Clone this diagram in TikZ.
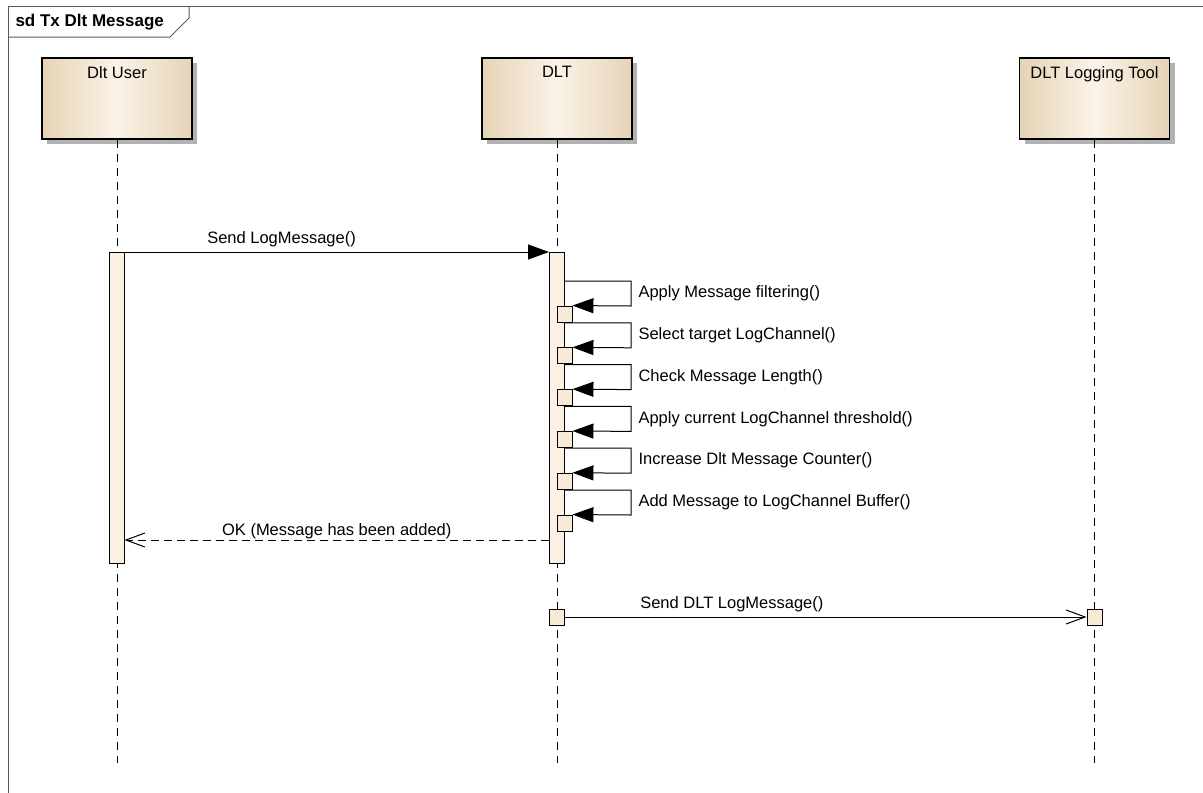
\documentclass[tikz,border=0pt]{standalone}
\usepackage{fontspec}
\setmainfont{Liberation Sans}
\usetikzlibrary{arrows.meta,positioning,calc,shadows}

\definecolor{headedge}{HTML}{E5D3B6}
\definecolor{headmid}{HTML}{FBF3E8}
\definecolor{barfill}{HTML}{FCF0E2}
\definecolor{boxfill}{HTML}{F7EAD6}
\definecolor{framegray}{HTML}{5A5A5A}

\newcommand{\msgfont}{\fontsize{16.5}{19}\selectfont}

\tikzset{
  head/.style={draw, line width=1.2pt, minimum width=150pt, minimum height=81pt,
    left color=headedge, right color=headedge, middle color=headmid,
    drop shadow={shadow xshift=5pt, shadow yshift=-5pt, fill=black!30, opacity=1}},
  lifeline/.style={line width=0.8pt, dash pattern=on 8pt off 6pt},
  activation/.style={draw, line width=0.9pt, fill=barfill, minimum width=15pt,
    minimum height=311pt, inner sep=0pt},
  execbox/.style={draw, line width=0.9pt, fill=boxfill, minimum width=15pt,
    minimum height=16pt, inner sep=0pt},
  call/.style={line width=1pt, -{Triangle[length=21pt,width=15pt]}},
  reply/.style={line width=1pt, dash pattern=on 8pt off 5pt,
    -{Straight Barb[length=19pt,width=14pt]}},
  async/.style={line width=1pt, -{Straight Barb[length=19pt,width=14pt]}},
  msg/.style={font=\msgfont, inner sep=1pt}
}

\begin{document}
\begin{tikzpicture}[x=1pt,y=-1pt,font=\msgfont]
\clip (0,0) rectangle (1203,793);
\fill[white] (0,0) rectangle (1203,793);

% frame
\draw[framegray, line width=1pt] (8,800) -- (8,6) -- (1210,6);
\draw[framegray, line width=1pt] (8,37) -- (170,37) -- (189,18) -- (189,6);
\node[anchor=west, font=\fontsize{17}{19}\selectfont\bfseries] (title) at (12,22) {sd Tx Dlt Message};

% lifeline heads
\node[head, label={[msg, anchor=north, yshift=-8pt]north:Dlt User}] (user) at (117,98.5) {};
\node[head, label={[msg, anchor=north, yshift=-8pt]north:DLT}] (dlt) at (557,98.5) {};
\node[head, label={[msg, anchor=north, yshift=-8pt]north:DLT Logging Tool}] (tool) at (1094.5,98.5) {};

\coordinate (userend) at (117,763);
\coordinate (dltend) at (557,763);
\coordinate (toolend) at (1094.5,763);
\draw[lifeline] (user.south) -- (userend);
\draw[lifeline] (dlt.south) -- (dltend);
\draw[lifeline] (tool.south) -- (toolend);

% activations
\node[activation] (userbar) at (116.5,407.5) {};
\node[activation] (dltbar) at (557,407.5) {};

\draw[call] (userbar.east |- 0,252) -- node[msg, pos=0.37, above=4pt] {Send LogMessage()} (dltbar.west |- 0,252);

% self calls
\foreach \i/\txt in {1/{Apply Message filtering()},
                     2/{Select target LogChannel()},
                     3/{Check Message Length()},
                     4/{Apply current LogChannel threshold()},
                     5/{Increase Dlt Message Counter()},
                     6/{Add Message to LogChannel Buffer()}}{
  \pgfmathsetmacro\ytop{281+41.8*(\i-1)}
  \node[execbox] (chk\i) at (564.5,\ytop+33) {};
  \coordinate (t\i) at (631,\ytop);
  \coordinate (b\i) at (631,\ytop+25);
  \draw[call] (dltbar.east |- t\i) -- (t\i) -- node[msg, right=6pt] {\txt} (b\i) -- (chk\i.north east);
}

\draw[reply] (dltbar.west |- 0,540) -- node[msg, pos=0.5, above=0pt] {OK (Message has been added)} (userbar.east |- 0,540);

% outgoing message
\node[execbox] (sendbox) at (557,617) {};
\node[execbox] (recvbox) at (1094.5,617) {};
\draw[async] (sendbox.east) -- node[msg, pos=0.32, above=4pt] {Send DLT LogMessage()} (recvbox.west);
\end{tikzpicture}
\end{document}
